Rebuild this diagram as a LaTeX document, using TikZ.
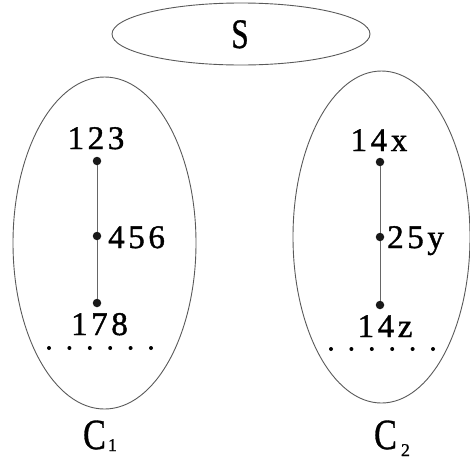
\documentclass[tikz,border=0pt]{standalone}
\usepackage{fontspec}
\setmainfont{Liberation Serif}[FakeBold=0.8]
\newfontfamily\spacedfont{Liberation Serif}[LetterSpace=11, FakeBold=1.2]
\usetikzlibrary{shapes.geometric}

\begin{document}
\begin{tikzpicture}[x=1pt, y=-1pt,
    region/.style={draw=black!65, line width=0.9pt, ellipse, inner sep=0pt},
    vertex/.style={circle, fill=black!90, inner sep=0pt, minimum size=8.5pt},
    tag/.style={inner sep=0pt, font=\fontsize{33}{34}\spacedfont},
    setname/.style={inner sep=0pt, anchor=base}]
    \useasboundingbox (0,0) rectangle (470,461);
    \node[region, minimum width=258pt, minimum height=62pt] (S) at (241,34) {};
    \node[region, minimum width=183pt, minimum height=332pt] (C1) at (104.5,243) {};
    \node[region, minimum width=177pt, minimum height=332pt] (C2) at (381.5,237) {};
    \node[setname] (sname) at (240,48) {\fontsize{42}{43}\selectfont\scalebox{0.75}[1]{S}};
    \node[setname] (c1name) at (100,449) {\fontsize{43}{44}\selectfont\scalebox{0.8}[1]{C}\hspace{2pt}\raisebox{-2pt}{\fontsize{18}{18}\selectfont 1}};
    \node[setname] (c2name) at (392,449) {\fontsize{43}{44}\selectfont\scalebox{0.8}[1]{C}\hspace{4pt}\raisebox{-7pt}{\fontsize{18}{18}\selectfont 2}};

    \node[vertex] (a) at (97,161) {};
    \node[vertex] (b) at (97,236) {};
    \node[vertex] (c) at (97,303) {};
    \node[vertex] (p) at (380,162) {};
    \node[vertex] (q) at (380,237) {};
    \node[vertex] (r) at (380,305) {};
    \draw[black!60, line width=0.9pt] (a) -- (b) -- (c);
    \draw[black!60, line width=0.9pt] (p) -- (q) -- (r);

    \node[tag, anchor=base] (ta) at (96,149) {123};
    \node[tag, anchor=base west] (tb) at (108,248) {456};
    \node[tag, anchor=base] (tc) at (99.5,335) {178};
    \node[tag, anchor=base] (tp) at (379,151) {14x};
    \node[tag, anchor=base west] (tq) at (387,248) {25y};
    \node[tag, anchor=base] (tr) at (385,337) {14z};

    \foreach \i in {0,...,5} {
        \fill (49+20.4*\i,348) circle (2);
        \fill (331+20.4*\i,349) circle (2);
    }
\end{tikzpicture}
\end{document}
